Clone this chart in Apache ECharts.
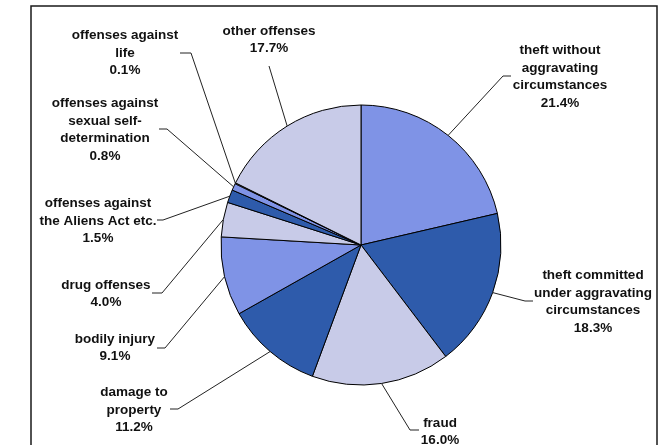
<!DOCTYPE html>
<html>
<head>
<meta charset="utf-8">
<script src="https://cdn.jsdelivr.net/npm/echarts@6/dist/echarts.min.js"></script>
<style>
  html, body { margin: 0; padding: 0; background: #fff; }
  #crimeShareChart { width: 665px; height: 445px; }
</style>
</head>
<body>
<div id="crimeShareChart"></div>
<script>
    // categories clockwise from 12 o'clock
    var categories = [
        'theft without\naggravating\ncircumstances',
        'theft committed\nunder aggravating\ncircumstances',
        'fraud',
        'damage to\nproperty',
        'bodily injury',
        'drug offenses',
        'offenses against\nthe Aliens Act etc.',
        'offenses against\nsexual self-\ndetermination',
        'offenses against\nlife',
        'other offenses'
    ];
    var shares = [21.4, 18.3, 16.0, 11.2, 9.1, 4.0, 1.5, 0.8, 0.1, 17.7];

    var paleBlue = '#c8cbe8', midBlue = '#7f93e6', darkBlue = '#2e5bab';
    var sliceColors = [midBlue, darkBlue, paleBlue, darkBlue, midBlue, paleBlue, darkBlue, midBlue, paleBlue, paleBlue];

    // where each label sits and how its leader line bends (layout only)
    var labelSpots = [
        {x: 560, y: 77,  elbow: [503, 76],  end: [511, 76]},
        {x: 593, y: 302, elbow: [525, 301], end: [533, 301]},
        {x: 440, y: 432, elbow: [410, 430], end: [419, 430]},
        {x: 134, y: 410, elbow: [178, 409], end: [170, 409]},
        {x: 115, y: 348, elbow: [165, 348], end: [157, 348]},
        {x: 106, y: 294, elbow: [162, 293], end: [152, 293]},
        {x: 98,  y: 221, elbow: [163, 220], end: [157, 220]},
        {x: 105, y: 130, elbow: [167, 129], end: [159, 129]},
        {x: 125, y: 53,  elbow: [191, 53],  end: [180, 53]},
        {x: 269, y: 40,  elbow: [269, 66],  end: [269, 66]}
    ];

    var chart = echarts.init(document.getElementById('crimeShareChart'));

    var pieData = categories.map(function (name, i) {
        return {name: name, value: shares[i], itemStyle: {color: sliceColors[i]}};
    });

    var option = {
        animation: false,
        backgroundColor: '#fff',
        graphic: [{
            type: 'rect',
            silent: true,
            shape: {x: 31, y: 6, width: 626, height: 460},
            style: {fill: 'none', stroke: '#1a1a1a', lineWidth: 1.5}
        }],
        series: [{
            type: 'pie',
            center: [361, 245],
            radius: 140,
            startAngle: 90,
            clockwise: true,
            avoidLabelOverlap: false,
            minShowLabelAngle: 0,
            data: pieData,
            itemStyle: {borderColor: '#000', borderWidth: 1},
            emphasis: {disabled: true},
            label: {
                show: true,
                position: 'outside',
                formatter: function (p) {
                    return p.name + '\n' + p.value.toFixed(1) + '%';
                },
                fontFamily: 'Liberation Sans, Arial, sans-serif',
                fontWeight: 'bold',
                fontSize: 13.5,
                lineHeight: 17.5,
                color: '#111',
                align: 'center'
            },
            labelLine: {
                show: true,
                length: 10,
                length2: 10,
                lineStyle: {color: '#222', width: 1}
            },
            labelLayout: function (p) {
                var s = labelSpots[p.dataIndex];
                var start = p.labelLinePoints ? p.labelLinePoints[0] : s.elbow;
                return {
                    x: s.x,
                    y: s.y,
                    align: 'center',
                    verticalAlign: 'middle',
                    labelLinePoints: [start, s.elbow, s.end]
                };
            }
        }]
    };
    chart.setOption(option);
</script>
</body>
</html>
